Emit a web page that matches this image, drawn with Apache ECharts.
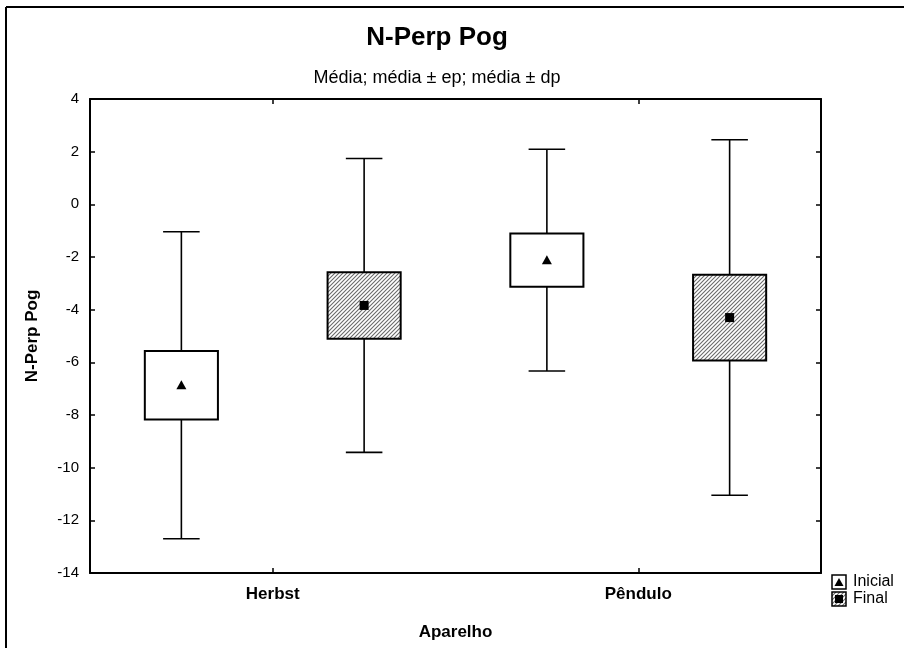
<!DOCTYPE html>
<html>
<head>
<meta charset="utf-8">
<script src="https://cdn.jsdelivr.net/npm/echarts@6/dist/echarts.min.js"></script>
<style>html,body{margin:0;padding:0;background:#fff}#c{width:904px;height:648px}</style>
</head>
<body>
<div id="c"></div>
<script>
const categories = ['Herbst', 'Pêndulo'];
const seriesNames = ['Inicial', 'Final'];
const inicialMean = [-6.87, -2.12];
const inicialEP = [1.30, 1.01];
const inicialDP = [5.83, 4.21];
const finalMean = [-3.84, -4.30];
const finalEP = [1.26, 1.63];
const finalDP = [5.58, 6.75];
const yTicks = { min: -14, max: 4, interval: 2 };

const FONT = 'Liberation Sans, Arial, sans-serif';

// hatch pattern
const pc = document.createElement('canvas');
pc.width = 4; pc.height = 4;
const g = pc.getContext('2d');
g.fillStyle = '#ffffff'; g.fillRect(0, 0, 4, 4);
g.strokeStyle = '#6a6a6a'; g.lineWidth = 1.1;
g.beginPath();
g.moveTo(-1, 5); g.lineTo(5, -1);
g.moveTo(-1, 1); g.lineTo(1, -1);
g.moveTo(3, 5); g.lineTo(5, 3);
g.stroke();
const hatch = { image: pc, repeat: 'repeat' };

function makeRender(offset, kind) {
  return function (params, api) {
    const cat = api.value(0), mean = api.value(1), ep = api.value(2), dp = api.value(3);
    const band = api.size([1, 0])[0];
    const x = api.coord([cat, mean])[0] + offset * band;
    const yM = api.coord([cat, mean])[1];
    const yT = api.coord([cat, mean + dp])[1];
    const yB = api.coord([cat, mean - dp])[1];
    const bT = api.coord([cat, mean + ep])[1];
    const bB = api.coord([cat, mean - ep])[1];
    const bw = band * 0.2, cw = band * 0.1;
    const ls = { stroke: '#000', lineWidth: 1.6 };
    const children = [
      { type: 'line', shape: { x1: x, y1: yT, x2: x, y2: yB }, style: ls },
      { type: 'line', shape: { x1: x - cw / 2, y1: yT, x2: x + cw / 2, y2: yT }, style: ls },
      { type: 'line', shape: { x1: x - cw / 2, y1: yB, x2: x + cw / 2, y2: yB }, style: ls },
      { type: 'rect', shape: { x: x - bw / 2, y: bT, width: bw, height: bB - bT },
        style: { fill: kind === 'tri' ? '#fff' : hatch, stroke: '#000', lineWidth: 2 } }
    ];
    if (kind === 'tri') {
      children.push({ type: 'polygon', shape: { points: [[x, yM - 5], [x + 5, yM + 4], [x - 5, yM + 4]] }, style: { fill: '#000' } });
    } else {
      children.push({ type: 'rect', shape: { x: x - 4.5, y: yM - 4.5, width: 9, height: 9 }, style: { fill: '#000' } });
    }
    return { type: 'group', children };
  };
}

const inicialData = categories.map((c, i) => [i, inicialMean[i], inicialEP[i], inicialDP[i]]);
const finalData = categories.map((c, i) => [i, finalMean[i], finalEP[i], finalDP[i]]);

const chart = echarts.init(document.getElementById('c'), null, { renderer: 'canvas' });

const legendX = 832, legendY = 575;
function legendItem(idx) {
  const y = legendY + idx * 17;
  const items = [
    { type: 'rect', shape: { x: legendX, y: y, width: 14, height: 14 },
      style: { fill: idx === 0 ? '#fff' : hatch, stroke: '#000', lineWidth: 1.5 } }
  ];
  if (idx === 0) {
    items.push({ type: 'polygon', shape: { points: [[legendX + 7, y + 3], [legendX + 11.5, y + 11], [legendX + 2.5, y + 11]] }, style: { fill: '#000' } });
  } else {
    items.push({ type: 'rect', shape: { x: legendX + 3, y: y + 3, width: 8, height: 8 }, style: { fill: '#000' } });
  }
  items.push({ type: 'text', x: legendX + 21, y: y + 7,
    style: { text: seriesNames[idx], fontFamily: FONT, fontSize: 16, fill: '#000', verticalAlign: 'middle', textAlign: 'left' } });
  return items;
}

const axisLineStyle = { color: '#000', width: 2 };
const tickStyle = { color: '#000', width: 1.5 };

const option = {
  backgroundColor: '#fff',
  animation: false,
  grid: { left: 90, right: 83, top: 99, bottom: 75, containLabel: false },
  xAxis: [
    { type: 'category', data: categories, position: 'bottom',
      axisLine: { onZero: false, lineStyle: axisLineStyle },
      axisTick: { show: true, inside: true, alignWithLabel: true, length: 5, lineStyle: tickStyle },
      axisLabel: { color: '#000', fontFamily: FONT, fontSize: 17, fontWeight: 'bold', margin: 13 },
      name: 'Aparelho', nameLocation: 'middle', nameGap: 51,
      nameTextStyle: { color: '#000', fontFamily: FONT, fontSize: 17, fontWeight: 'bold' },
      splitLine: { show: false } },
    { type: 'category', data: categories, position: 'top',
      axisLine: { onZero: false, lineStyle: axisLineStyle },
      axisTick: { show: true, inside: true, alignWithLabel: true, length: 5, lineStyle: tickStyle },
      axisLabel: { show: false }, splitLine: { show: false } }
  ],
  yAxis: [
    { type: 'value', min: yTicks.min, max: yTicks.max, interval: yTicks.interval, position: 'left',
      axisLine: { show: true, onZero: false, lineStyle: axisLineStyle },
      axisTick: { show: true, inside: true, length: 5, lineStyle: tickStyle },
      axisLabel: { color: '#000', fontFamily: FONT, fontSize: 15, margin: 11 },
      splitLine: { show: false },
      name: 'N-Perp Pog', nameLocation: 'middle', nameGap: 49, nameRotate: 90,
      nameTextStyle: { color: '#000', fontFamily: FONT, fontSize: 17, fontWeight: 'bold' } },
    { type: 'value', min: yTicks.min, max: yTicks.max, interval: yTicks.interval, position: 'right',
      axisLine: { show: true, onZero: false, lineStyle: axisLineStyle },
      axisTick: { show: true, inside: true, length: 5, lineStyle: tickStyle },
      axisLabel: { show: false }, splitLine: { show: false } }
  ],
  series: [
    { name: seriesNames[0], type: 'custom', xAxisIndex: 0, yAxisIndex: 0,
      renderItem: makeRender(-0.25, 'tri'), data: inicialData, encode: { x: 0, y: [1] } },
    { name: seriesNames[1], type: 'custom', xAxisIndex: 0, yAxisIndex: 0,
      renderItem: makeRender(0.25, 'sq'), data: finalData, encode: { x: 0, y: [1] } }
  ],
  graphic: [
    { type: 'line', shape: { x1: 6, y1: 7, x2: 904, y2: 7 }, style: { stroke: '#000', lineWidth: 2 } },
    { type: 'line', shape: { x1: 6, y1: 7, x2: 6, y2: 648 }, style: { stroke: '#000', lineWidth: 2 } },
    { type: 'text', x: 437, y: 38, style: { text: 'N-Perp Pog', fontFamily: FONT, fontSize: 26, fontWeight: 'bold', fill: '#000', textAlign: 'center', verticalAlign: 'middle' } },
    { type: 'text', x: 437, y: 78, style: { text: 'Média; média ± ep; média ± dp', fontFamily: FONT, fontSize: 18, fill: '#000', textAlign: 'center', verticalAlign: 'middle' } },
    ...legendItem(0),
    ...legendItem(1)
  ]
};
chart.setOption(option);
</script>
</body>
</html>
